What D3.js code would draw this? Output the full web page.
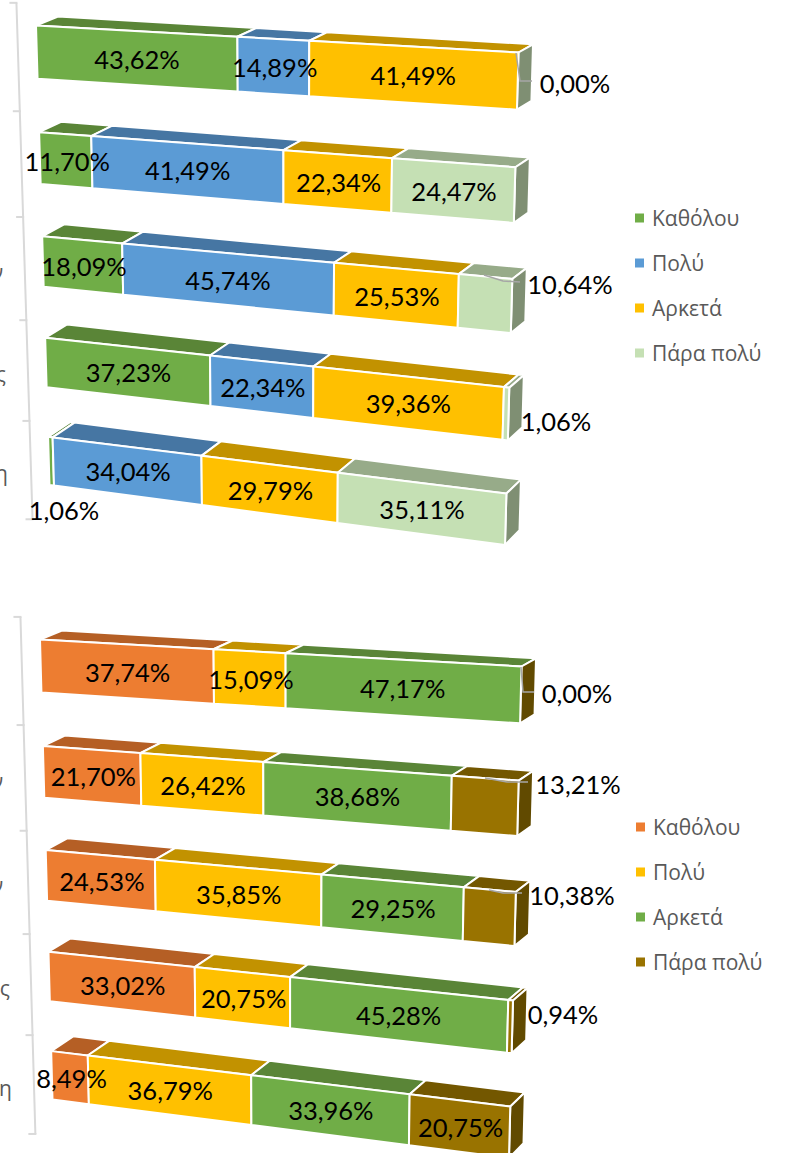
<!DOCTYPE html>
<html><head><meta charset="utf-8">
<script src="https://cdn.jsdelivr.net/npm/d3@7/dist/d3.min.js"></script>
<style>html,body{margin:0;background:#fff}svg{display:block}</style></head>
<body><div id="c"></div>
<script>
const seriesNames = ["Καθόλου","Πολύ","Αρκετά","Πάρα πολύ"];
const rows = [0,1,2,3,4];
const upperKatholou = [43.62,11.70,18.09,37.23,1.06];
const upperPoly     = [14.89,41.49,45.74,22.34,34.04];
const upperArketa   = [41.49,22.34,25.53,39.36,29.79];
const upperParaPoly = [0.00,24.47,10.64,1.06,35.11];
const lowerKatholou = [37.74,21.70,24.53,33.02,8.49];
const lowerPoly     = [15.09,26.42,35.85,20.75,36.79];
const lowerArketa   = [47.17,38.68,29.25,45.28,33.96];
const lowerParaPoly = [0.00,13.21,10.38,0.94,20.75];
const upperCategoryTails = ["","","ν","ς","η"];
const lowerCategoryTails = ["","ν","ν","ς","η"];

const GREEN={f:"#70AD47",t:"#5A8537",s:"#4F7432"}, BLUE={f:"#5B9BD5",t:"#4676A3",s:"#3E6A92"},
      YEL={f:"#FFC000",t:"#C29200",s:"#A98000"}, LGREEN={f:"#C5E0B4",t:"#97AB89",s:"#7F8F73"},
      ORANGE={f:"#ED7D31",t:"#B55F25",s:"#A05420"}, BROWN={f:"#997300",t:"#735700",s:"#614A00"};

const W=787,H=1153;
const svg=d3.select("#c").append("svg").attr("width",W).attr("height",H);
const LABEL_FONT="Lato, Carlito, sans-serif", LEGEND_FONT="'Open Sans', sans-serif";
const pct=d3.formatLocale({decimal:",",thousands:".",grouping:[3],currency:["",""]}).format(".2f");

function homography(q){
  const [p0,p1,p2,p3]=q;
  const sx=p0[0]-p1[0]+p2[0]-p3[0], sy=p0[1]-p1[1]+p2[1]-p3[1];
  const dx1=p1[0]-p2[0],dx2=p3[0]-p2[0],dy1=p1[1]-p2[1],dy2=p3[1]-p2[1];
  const den=dx1*dy2-dx2*dy1, g=(sx*dy2-dx2*sy)/den, h=(dx1*sy-sx*dy1)/den;
  const a=p1[0]-p0[0]+g*p1[0], b=p3[0]-p0[0]+h*p3[0], d=p1[1]-p0[1]+g*p1[1], e=p3[1]-p0[1]+h*p3[1];
  return (u,v)=>{const w=g*u+h*v+1; return [(a*u+b*v+p0[0])/w,(d*u+e*v+p0[1])/w];};
}

function chart(cfg){
  const g=svg.append("g");
  const table=rows.map(i=>Object.fromEntries(cfg.values.map((s,k)=>[k,s[i]])));
  const stack=d3.stack().keys([0,1,2,3])(table);
  const uScale=d3.scaleLinear().domain([0,100]).range([0,1]);
  const vScale=d3.scaleBand().domain(rows).range([0,1]).paddingInner(0.505).paddingOuter(0);
  const P=homography(cfg.quad);
  const step=vScale.step(), bw=vScale.bandwidth();
  const dxL=22,dxR=14.5;
  const dyOf=d3.scaleLinear().domain([0,1]).range([-9,-15.5]);
  const depth=(u,v)=>[dxL+(dxR-dxL)*u, dyOf(v)+0.8*u];
  const back=(u,v)=>{const p=P(u,v),d=depth(u,v);return [p[0]+d[0],p[1]+d[1]];};
  const line=d3.line();

  const boundary=i=>i*step-(step-bw)/2;
  const shift=d3.scaleLinear().domain([0,1]).range(cfg.axisShift);
  const axisPt=i=>{const v=boundary(i);const p=P(cfg.axisU,v);return [p[0],p[1]+shift(v)];};
  const axisGroup=g.append("g").attr("class","axis");
  const ticks=d3.range(6);
  axisGroup.append("path").attr("d",line(ticks.map(axisPt))).attr("fill","none").attr("stroke","#D9D9D9").attr("stroke-width",2);
  axisGroup.selectAll("line").data(ticks).join("line")
    .attr("x1",i=>axisPt(i)[0]-7).attr("x2",i=>axisPt(i)[0]+1)
    .attr("y1",i=>axisPt(i)[1]).attr("y2",i=>axisPt(i)[1])
    .attr("stroke","#D9D9D9").attr("stroke-width",2);
  axisGroup.selectAll("text").data(cfg.cats).join("text")
    .attr("x",(d,i)=>cfg.catX(i)).attr("y",(d,i)=>(axisPt(i)[1]+axisPt(i+1)[1])/2+3)
    .attr("text-anchor","end").attr("dominant-baseline","central")
    .attr("font-family",LEGEND_FONT).attr("font-size",21).attr("fill","#595959").text(d=>d);

  const segs=[];
  stack.forEach((s,k)=>s.forEach((d,i)=>segs.push({k,i,u0:uScale(d[0]),u1:uScale(d[1]),value:d.data[k]})));

  rows.forEach(i=>{
    const v0=vScale(i), v1=v0+bw;
    const rowG=g.append("g").attr("class","bar");
    const mine=segs.filter(s=>s.i===i);
    const faceStyle=sel=>sel.attr("stroke","#fff").attr("stroke-width",2).attr("stroke-linejoin","miter");
    rowG.selectAll("path.top").data(mine.filter(s=>s.value>0)).join("path").attr("class","top")
      .attr("d",s=>line([P(s.u0,v0),P(s.u1,v0),back(s.u1,v0),back(s.u0,v0)])+"Z")
      .attr("fill",s=>cfg.colors[s.k].t).call(faceStyle);
    rowG.append("path").attr("class","side")
      .attr("d",line([P(1,v0),back(1,v0),back(1,v1),P(1,v1)])+"Z")
      .attr("fill",cfg.colors[3].s).call(faceStyle);
    rowG.selectAll("path.front").data(mine.filter(s=>s.value>0)).join("path").attr("class","front")
      .attr("d",s=>line([P(s.u0,v0),P(s.u1,v0),P(s.u1,v1),P(s.u0,v1)])+"Z")
      .attr("fill",s=>cfg.colors[s.k].f).call(faceStyle);
  });

  g.append("g").attr("class","leaders").selectAll("path").data(cfg.leaders).join("path")
    .attr("d",d=>line(d)).attr("fill","none").attr("stroke","#A6A6A6").attr("stroke-width",1.5);

  g.append("g").attr("class","labels").selectAll("text").data(segs).join("text")
    .each(function(s){
      const v0=vScale(s.i), vm=v0+bw/2, um=(s.u0+s.u1)/2;
      const key=s.i+"-"+s.k, moved=cfg.moved[key];
      const p=moved||P(um,vm);
      d3.select(this).attr("x",moved?p[0]:p[0]+1.5).attr("y",moved?p[1]:p[1]+0.5);
    })
    .attr("text-anchor","middle").attr("dominant-baseline","central")
    .attr("font-family",LABEL_FONT).attr("font-size",25.5).attr("fill","#000")
    .text(s=>pct(s.value)+"%");

  const lg=g.append("g").attr("class","legend");
  const ly=d3.scalePoint().domain(seriesNames).range(cfg.legendY);
  lg.selectAll("rect").data(seriesNames).join("rect")
    .attr("x",cfg.legendX-4.5).attr("y",d=>ly(d)-4.5).attr("width",9).attr("height",9)
    .attr("fill",(d,k)=>cfg.colors[k].f);
  lg.selectAll("text").data(seriesNames).join("text")
    .attr("x",cfg.legendX+12.5).attr("y",d=>ly(d)).attr("dominant-baseline","central")
    .attr("font-family",LEGEND_FONT).attr("font-size",21).attr("fill","#595959").text(d=>d);
}

chart({
  values:[upperKatholou,upperPoly,upperArketa,upperParaPoly],
  colors:[GREEN,BLUE,YEL,LGREEN], cats:upperCategoryTails,
  quad:[[36,25.5],[518.5,52.5],[505,545],[49.5,485]],
  axisU:-0.042, axisShift:[6,12], catX:i=>i===2?3:(i===3?6:8),
  legendX:639.5, legendY:[218,353],
  moved:{"0-3":[575,83],"2-3":[570,284],"3-3":[556,421],"4-0":[64,510]},
  leaders:[[[516,53],[520,81],[532,81]],[[484,275],[503,281],[520,282]]]
});
chart({
  values:[lowerKatholou,lowerPoly,lowerArketa,lowerParaPoly],
  colors:[ORANGE,YEL,GREEN,BROWN], cats:lowerCategoryTails,
  quad:[[40,639.5],[521.5,666.5],[509,1158],[52.5,1099.5]],
  axisU:-0.042, axisShift:[6,12], catX:i=>i<=2?3:(i===3?10:12),
  legendX:640.5, legendY:[827,962],
  moved:{"0-3":[577,693],"1-3":[578,784],"2-3":[572,895],"3-3":[563,1014]},
  leaders:[[[521,667],[523,692],[534,692]],[[485,778],[507,782],[528,782]],[[489,890],[503,893],[522,893]]]
});
</script></body></html>
